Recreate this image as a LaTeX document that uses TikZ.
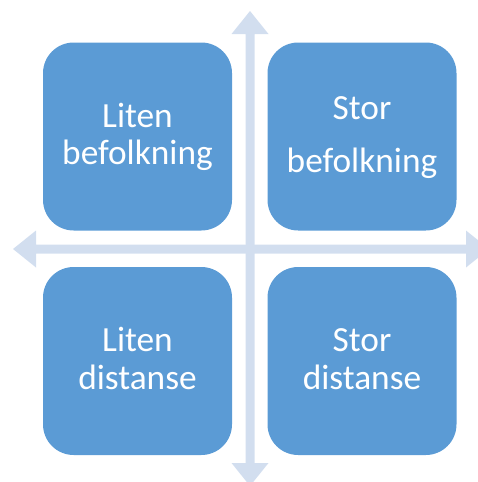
\documentclass[tikz,border=0pt]{standalone}
\usepackage{fontspec}
\setmainfont{Carlito}
\definecolor{boxblue}{RGB}{91,155,213}
\definecolor{axisblue}{RGB}{210,222,239}
\begin{document}
\begin{tikzpicture}[x=0.75pt,y=-0.75pt,
  quad/.style={draw=none,fill=boxblue,rounded corners=23pt,minimum width=141.75pt,minimum height=141pt,inner sep=0pt},
  lbl/.style={anchor=base,text=white,inner sep=0pt,font=\fontsize{26.5}{30}\selectfont},
  axis/.style={fill=axisblue,draw=none}]
\useasboundingbox (0,0) rectangle (478,482);
\clip (0,0) rectangle (478,482);
% axes
\fill[axis] (250,11) -- (268.5,34) -- (254.5,34) -- (254.5,463) -- (268.5,463) -- (250,486)
  -- (231.5,463) -- (245.5,463) -- (245.5,34) -- (231.5,34) -- cycle;
\fill[axis] (13,249) -- (36,230.5) -- (36,244.5) -- (466,244.5) -- (466,230.5) -- (489,249)
  -- (466,267.5) -- (466,253.5) -- (36,253.5) -- (36,267.5) -- cycle;
% boxes
\node[quad] (tl) at (137.5,136.5) {};
\node[quad] (tr) at (362,136.5) {};
\node[quad] (bl) at (137.5,361) {};
\node[quad] (br) at (362,361) {};
% labels
\node[lbl] (tl1) at (137.5,127) {Liten};
\node[lbl] (tl2) at (137.5,164) {befolkning};
\node[lbl] (tr1) at (362,119) {Stor};
\node[lbl] (tr2) at (362,172) {befolkning};
\node[lbl] (bl1) at (137.5,351) {Liten};
\node[lbl] (bl2) at (137.5,389) {distanse};
\node[lbl] (br1) at (362,351) {Stor};
\node[lbl] (br2) at (362,389) {distanse};
\end{tikzpicture}
\end{document}
